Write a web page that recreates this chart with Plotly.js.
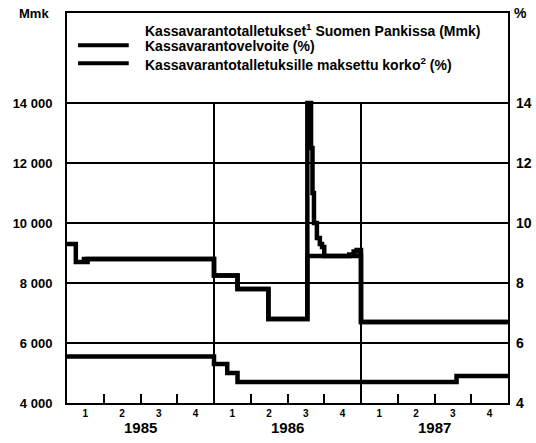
<!DOCTYPE html>
<html>
<head>
<meta charset="utf-8">
<script src="https://cdn.plot.ly/plotly-3.0.1.min.js"></script>
<style>html,body{margin:0;padding:0;background:#fff;}#chart{width:536px;height:443px;}</style>
</head>
<body>
<div id="chart"></div>
<script>
// Cash reserve deposits at the Bank of Finland (Mmk), decimal year
var depositDates = [1985.0, 1985.06, 1985.14, 1986.0, 1986.16, 1986.37, 1986.635, 1986.66, 1986.67, 1986.68, 1986.70, 1986.72, 1986.735, 1986.75, 1986.92, 1986.95, 1986.97, 1987.0, 1988.0];
var depositValues = [9300, 8700, 8800, 8250, 7800, 6800, 14000, 12500, 11000, 10000, 9500, 9300, 9200, 8900, 8950, 9050, 9100, 6700, 6700];

// Cash reserve requirement (%)
var requirementDates = [1985.1, 1986.0, 1986.16, 1986.37, 1986.635, 1987.0, 1988.0];
var requirementValues = [8.8, 8.25, 7.8, 6.8, 8.9, 6.7, 6.7];

// Interest paid on cash reserve deposits (%)
var interestDates = [1985.0, 1986.0, 1986.09, 1986.16, 1987.65, 1988.0];
var interestValues = [5.55, 5.3, 5.0, 4.7, 4.9, 4.9];

var years = [1985, 1986, 1987];
var quarterLabels = ['1', '2', '3', '4'];
var leftTicks = [4000, 6000, 8000, 10000, 12000, 14000];
var leftTickText = ['4 000', '6 000', '8 000', '10 000', '12 000', '14 000'];
var rightTicks = [4, 6, 8, 10, 12, 14];
var legendNames = ['Kassavarantotalletukset<sup>1</sup> Suomen Pankissa (Mmk)', 'Kassavarantovelvoite (%)', 'Kassavarantotalletuksille maksettu korko<sup>2</sup> (%)'];

var FONT = 'Liberation Sans, Arial, sans-serif';

var qMid = [], qLab = [], qEdge = [];
years.forEach(function (y) {
  for (var q = 0; q < 4; q++) {
    qMid.push(y + q * 0.25 + 0.125);
    qLab.push(quarterLabels[q]);
    if (q > 0) qEdge.push(y + q * 0.25);
  }
});

var traces = [
  {x: depositDates, y: depositValues, mode: 'lines', line: {shape: 'hv', color: '#000', width: 4.5}, yaxis: 'y', showlegend: false, hoverinfo: 'skip'},
  {x: requirementDates, y: requirementValues, mode: 'lines', line: {shape: 'hv', color: '#000', width: 4.5}, yaxis: 'y2', showlegend: false, hoverinfo: 'skip'},
  {x: interestDates, y: interestValues, mode: 'lines', line: {shape: 'hv', color: '#000', width: 4.5}, yaxis: 'y2', showlegend: false, hoverinfo: 'skip'}
];

var shapes = [];
[1986, 1987].forEach(function (y) {
  shapes.push({type: 'line', xref: 'x', yref: 'y', x0: y, x1: y, y0: 4000, y1: 14000, line: {color: '#000', width: 2}});
});
// legend samples
shapes.push({type: 'line', xref: 'paper', yref: 'paper', x0: 0.025, x1: 0.14, y0: 0.917, y1: 0.917, line: {color: '#000', width: 4}});
shapes.push({type: 'line', xref: 'paper', yref: 'paper', x0: 0.025, x1: 0.14, y0: 0.871, y1: 0.871, line: {color: '#000', width: 4}});

var annotations = [];
var legY = [0.956, 0.915, 0.869];
legendNames.forEach(function (n, i) {
  annotations.push({xref: 'paper', yref: 'paper', x: 0.172, y: legY[i], xanchor: 'left', yanchor: 'middle', text: n, showarrow: false,
    font: {family: FONT, size: 14, color: '#000', weight: 'bold'}});
});
years.forEach(function (y) {
  annotations.push({xref: 'x', yref: 'paper', x: y + 0.5, y: -0.064, xanchor: 'center', yanchor: 'middle', text: String(y), showarrow: false,
    font: {family: FONT, size: 15, color: '#000', weight: 'bold'}});
});
annotations.push({xref: 'paper', yref: 'paper', x: -0.036, y: 1.0, xanchor: 'right', yanchor: 'middle', text: 'Mmk', showarrow: false,
  font: {family: FONT, size: 13, color: '#000', weight: 'bold'}});
annotations.push({xref: 'paper', yref: 'paper', x: 1.008, y: 1.0, xanchor: 'left', yanchor: 'middle', text: '%', showarrow: false,
  font: {family: FONT, size: 14, color: '#000', weight: 'bold'}});

var layout = {
  width: 536, height: 443,
  margin: {l: 67, r: 28, t: 13, b: 40},
  paper_bgcolor: '#fff', plot_bgcolor: '#fff',
  showlegend: false,
  xaxis: {
    range: [1985, 1988], tickmode: 'array', tickvals: qMid, ticktext: qLab, ticks: '',
    showline: true, mirror: true, linecolor: '#000', linewidth: 2, showgrid: false, zeroline: false,
    tickfont: {family: FONT, size: 10, color: '#000', weight: 'bold'},
    minor: {tickmode: 'array', tickvals: qEdge, ticks: 'inside', ticklen: 9, tickwidth: 2, tickcolor: '#000', showgrid: false}
  },
  yaxis: {
    range: [4000, 17000], tickmode: 'array', tickvals: leftTicks, ticktext: leftTickText, ticks: '',
    showline: true, mirror: true, linecolor: '#000', linewidth: 2, showgrid: true, gridcolor: '#000', gridwidth: 1.5, zeroline: false,
    ticklabelstandoff: 10,
    tickfont: {family: FONT, size: 13, color: '#000', weight: 'bold'}
  },
  yaxis2: {
    range: [4, 17], overlaying: 'y', side: 'right', tickmode: 'array', tickvals: rightTicks, ticks: '',
    showgrid: false, zeroline: false, showline: false, ticklabelstandoff: 7,
    tickfont: {family: FONT, size: 14, color: '#000', weight: 'bold'}
  },
  shapes: shapes,
  annotations: annotations
};

Plotly.newPlot('chart', traces, layout, {displayModeBar: false, staticPlot: true});
</script>
</body>
</html>
